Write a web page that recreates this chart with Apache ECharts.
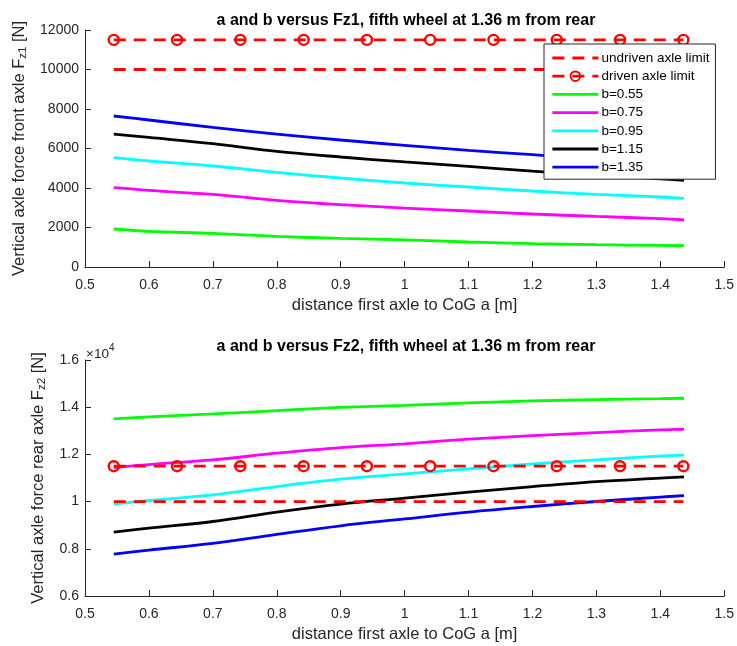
<!DOCTYPE html>
<html>
<head>
<meta charset="utf-8">
<script src="https://cdn.jsdelivr.net/npm/echarts@6/dist/echarts.min.js"></script>
<style>
html,body{margin:0;padding:0;background:#fff;}
#chart{width:737px;height:646px;}
</style>
</head>
<body>
<div id="chart"></div>
<script>
// ---- data ----
const aValues = [0.545, 0.6, 0.7, 0.8, 0.9, 1.0, 1.1, 1.2, 1.3, 1.4, 1.437];
const limitA = [0.545, 0.644, 0.743, 0.842, 0.941, 1.040, 1.139, 1.238, 1.337, 1.436];
const undrivenLimit = 10000;
const drivenLimit = 11500;
const bNames = ['b=0.55', 'b=0.75', 'b=0.95', 'b=1.15', 'b=1.35'];
// front axle force Fz1 [N]
const fz1_b055 = [1924, 1803, 1701, 1549, 1448, 1375, 1266, 1180, 1129, 1094, 1078];
const fz1_b075 = [4015, 3878, 3676, 3372, 3154, 2985, 2835, 2683, 2562, 2445, 2380];
const fz1_b095 = [5534, 5367, 5114, 4790, 4506, 4253, 4050, 3848, 3676, 3544, 3473];
const fz1_b115 = [6733, 6562, 6243, 5853, 5569, 5320, 5093, 4850, 4640, 4460, 4385];
const fz1_b135 = [7645, 7443, 7068, 6733, 6430, 6160, 5904, 5686, 5450, 5260, 5190];
// rear axle force Fz2 [N]
const fz2_b055 = [13503, 13588, 13715, 13855, 13990, 14080, 14180, 14265, 14320, 14362, 14380];
const fz2_b075 = [11442, 11570, 11768, 12052, 12289, 12450, 12644, 12796, 12923, 13038, 13067];
const fz2_b095 = [9893, 10046, 10287, 10638, 10951, 11175, 11387, 11599, 11768, 11925, 11967];
const fz2_b115 = [8708, 8878, 9157, 9555, 9893, 10145, 10401, 10638, 10850, 10994, 11049];
const fz2_b135 = [7777, 7947, 8226, 8607, 8975, 9265, 9555, 9792, 10004, 10190, 10257];

const titles = ['a and b versus Fz1, fifth wheel at 1.36 m from rear',
                'a and b versus Fz2, fifth wheel at 1.36 m from rear'];
const xLabel = 'distance first axle to CoG a [m]';

// ---- styling ----
const FONT = '"Liberation Sans", Arial, Helvetica, sans-serif';
const AX = '#262626';
const colors = ['#00ff00', '#ff00ff', '#00ffff', '#000000', '#0000ff'];
const RED = '#ff0000';
const LW = 2.8;

const chart = echarts.init(document.getElementById('chart'), null, {renderer: 'canvas'});

function xAxis(gi) {
  return {
    type: 'value', gridIndex: gi, min: 0.5, max: 1.5, interval: 0.1,
    axisLine: {show: true, onZero: false, lineStyle: {color: AX, width: 1}},
    axisTick: {show: true, inside: true, length: 6, lineStyle: {color: AX}},
    splitLine: {show: false},
    axisLabel: {color: AX, fontFamily: FONT, fontSize: 14, margin: 11,
      formatter: v => String(+v.toFixed(1))},
    name: xLabel, nameLocation: 'middle', nameGap: 30,
    nameTextStyle: {color: AX, fontFamily: FONT, fontSize: 16.5}
  };
}
function yAxis(gi, min, max, interval, fmt, name, gap) {
  return {
    type: 'value', gridIndex: gi, min, max, interval,
    axisLine: {show: true, lineStyle: {color: AX, width: 1}},
    axisTick: {show: true, inside: true, length: 6, lineStyle: {color: AX}},
    splitLine: {show: false},
    axisLabel: {color: AX, fontFamily: FONT, fontSize: 14, margin: 6, formatter: fmt},
    name: name, nameLocation: 'middle', nameRotate: 90, nameGap: gap,
    nameTextStyle: {
      color: AX, fontFamily: FONT, fontSize: 16.5,
      rich: {
        t: {color: AX, fontFamily: FONT, fontSize: 16.5, lineHeight: 20},
        s: {color: AX, fontFamily: FONT, fontSize: 11.5, lineHeight: 9, verticalAlign: 'bottom'}
      }
    }
  };
}

function limitSeries(gi) {
  return [
    {
      name: 'undriven axle limit', type: 'line', xAxisIndex: gi, yAxisIndex: gi,
      data: limitA.map(a => [a, undrivenLimit]), symbol: 'none',
      lineStyle: {color: RED, width: LW, type: [12, 8]}, itemStyle: {color: RED},
      silent: true, animation: false, z: 3
    },
    {
      name: 'driven axle limit', type: 'line', xAxisIndex: gi, yAxisIndex: gi,
      data: limitA.map(a => [a, drivenLimit]), symbol: 'circle', symbolSize: 10, showSymbol: true,
      lineStyle: {color: RED, width: LW, type: [12, 8]},
      itemStyle: {color: 'rgba(255,255,255,0)', borderColor: RED, borderWidth: 2.4},
      silent: true, animation: false, z: 3
    }
  ];
}
function bSeries(gi, arrs) {
  return arrs.map((arr, i) => ({
    name: bNames[i], type: 'line', xAxisIndex: gi, yAxisIndex: gi,
    data: aValues.map((a, k) => [a, arr[k]]), symbol: 'none', smooth: 0.35,
    lineStyle: {color: colors[i], width: LW}, itemStyle: {color: colors[i]},
    silent: true, animation: false, z: 2
  }));
}

const legendData = [
  {name: 'undriven axle limit', itemStyle: {opacity: 0}},
  {name: 'driven axle limit'}
].concat(bNames.map(n => ({name: n, itemStyle: {opacity: 0}})));

const option = {
  backgroundColor: '#ffffff',
  animation: false,
  textStyle: {fontFamily: FONT},
  grid: [
    {left: 85, top: 30, width: 642, height: 237, containLabel: false},
    {left: 85, top: 360, width: 642, height: 236, containLabel: false}
  ],
  legend: {
    orient: 'vertical', left: 544, top: 44,
    data: legendData,
    backgroundColor: '#ffffff', borderColor: AX, borderWidth: 1,
    padding: [7, 6, 5, 7], itemWidth: 46, itemHeight: 12, itemGap: 4.2,
    lineStyle: {width: 2.8},
    textStyle: {color: '#000', fontFamily: FONT, fontSize: 13.5, padding: [0, 0, 0, -2]},
    selectedMode: false
  },
  xAxis: [xAxis(0), xAxis(1)],
  yAxis: [
    yAxis(0, 0, 12000, 2000, v => String(v),
      '{t|Vertical axle force front axle F}{s|z1}{t| [N]}', 56),
    yAxis(1, 6000, 16000, 2000, v => String(+(v / 10000).toFixed(1)),
      '{t|Vertical axle force rear axle F}{s|z2}{t| [N]}', 37)
  ],
  graphic: [
    {type: 'text', x: 406, y: 21, silent: true,
     style: {text: titles[0], align: 'center', verticalAlign: 'middle',
       fontFamily: FONT, fontSize: 16, fontWeight: 'bold', fill: '#000'}},
    {type: 'text', x: 406, y: 347, silent: true,
     style: {text: titles[1], align: 'center', verticalAlign: 'middle',
       fontFamily: FONT, fontSize: 16, fontWeight: 'bold', fill: '#000'}},
    {type: 'text', left: 86, top: 343, silent: true,
     style: {text: '{m|×10}{p|4}', rich: {
       m: {fontFamily: FONT, fontSize: 13.5, fill: AX, lineHeight: 18, verticalAlign: 'bottom'},
       p: {fontFamily: FONT, fontSize: 10, fill: AX, lineHeight: 10, verticalAlign: 'top'}
     }}}
  ],
  series: [].concat(
    limitSeries(0),
    bSeries(0, [fz1_b055, fz1_b075, fz1_b095, fz1_b115, fz1_b135]),
    limitSeries(1),
    bSeries(1, [fz2_b055, fz2_b075, fz2_b095, fz2_b115, fz2_b135])
  )
};
chart.setOption(option);
</script>
</body>
</html>
